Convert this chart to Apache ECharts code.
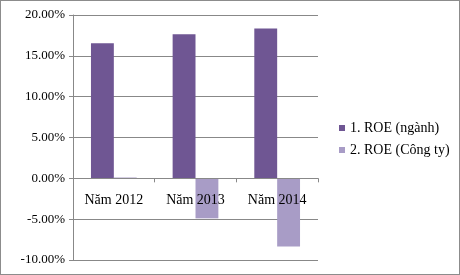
<!DOCTYPE html>
<html><head><meta charset="utf-8">
<script src="https://cdn.jsdelivr.net/npm/echarts@6/dist/echarts.min.js"></script>
<style>html,body{margin:0;padding:0;background:#fff}#c{width:460px;height:275px;box-sizing:border-box;border:1px solid #8c8c8c}</style>
</head><body><div id="c"></div>
<script>
var categories = ['Năm 2012', 'Năm 2013', 'Năm 2014'];
var seriesNames = ['1. ROE (ngành)', '2. ROE (Công ty)'];
var roeIndustry = [16.55, 17.65, 18.35];
var roeCompany = [0.1, -4.9, -8.35];
var font = '"Liberation Serif", "Times New Roman", serif';
var chart = echarts.init(document.getElementById('c'), null, {renderer: 'canvas'});
chart.setOption({
  animation: false,
  textStyle: {fontFamily: font},
  grid: {left: 72, right: 141, top: 14, bottom: 14, containLabel: false, outerBoundsMode: 'none'},
  legend: {
    orient: 'vertical', left: 333, top: 115, itemWidth: 6, itemHeight: 6, itemGap: 8,
    icon: 'rect',
    textStyle: {fontFamily: font, fontSize: 14, color: '#000'},
    data: seriesNames
  },
  xAxis: {
    type: 'category', data: categories, z: 10,
    axisLine: {onZero: true, lineStyle: {color: '#888'}},
    axisTick: {show: true, length: 4, lineStyle: {color: '#888'}},
    axisLabel: {fontFamily: font, fontSize: 14, color: '#000', margin: -67}
  },
  yAxis: {
    type: 'value', min: -10, max: 20, interval: 5,
    axisLine: {show: true, lineStyle: {color: '#888'}},
    axisTick: {show: true, length: 4, inside: false, lineStyle: {color: '#888'}},
    splitLine: {lineStyle: {color: '#888'}},
    axisLabel: {fontFamily: font, fontSize: 13, color: '#000', margin: 8,
      formatter: function (v) { return v.toFixed(2) + '%'; }}
  },
  series: [
    {name: seriesNames[0], type: 'bar', data: roeIndustry, barGap: '0%', barCategoryGap: '44%',
     itemStyle: {color: '#6F5693'}},
    {name: seriesNames[1], type: 'bar', data: roeCompany, barGap: '0%', barCategoryGap: '44%',
     itemStyle: {color: '#A89CC6'}}
  ]
});
</script></body></html>
